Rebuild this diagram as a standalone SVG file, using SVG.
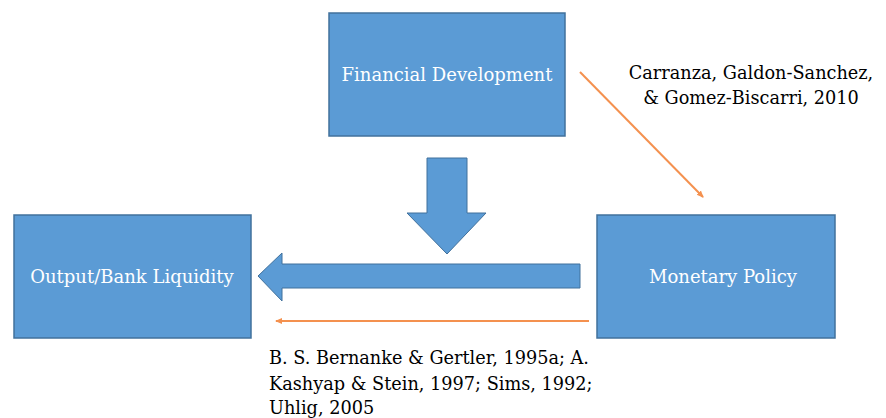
<svg xmlns="http://www.w3.org/2000/svg" width="886" height="418" viewBox="0 0 886 418">
<style>
.box{fill:#5B9BD5;stroke:#41719C;stroke-width:1.5}
.lbl{font-family:'DejaVu Serif','Liberation Serif',serif;font-size:18px;fill:#FFFFFF;text-anchor:middle}
.cite{font-family:'DejaVu Serif','Liberation Serif',serif;font-size:17.7px;fill:#000000}
.bigarrow{fill:#5B9BD5;stroke:#41719C;stroke-width:1}
.thin{stroke:#F4914F;stroke-width:2;fill:none}
</style>
<defs>
<marker id="oh" markerWidth="8" markerHeight="8" refX="6" refY="4" orient="auto" markerUnits="userSpaceOnUse">
<path d="M0,1 L7,4 L0,7 Z" fill="#F4914F"/>
</marker>
</defs>
<rect width="886" height="418" fill="#FFFFFF"/>
<g id="connectors">
<path class="bigarrow" d="M427,158 L467,158 L467,213 L486,213 L447,254 L407,213 L427,213 Z"/>
<path class="bigarrow" d="M580,264 L580,288 L282,288 L282,301 L258,276 L282,253 L282,264 Z"/>
<line class="thin" x1="589" y1="321" x2="276" y2="321" marker-end="url(#oh)"/>
<line class="thin" x1="580" y1="72" x2="703" y2="197" marker-end="url(#oh)"/>
</g>
<g id="financial-development">
<rect class="box" x="329" y="13" width="236" height="123"/>
<text class="lbl" x="447" y="81">Financial Development</text>
</g>
<g id="output-bank-liquidity">
<rect class="box" x="14" y="215" width="237" height="123"/>
<text class="lbl" x="132" y="283">Output/Bank Liquidity</text>
</g>
<g id="monetary-policy">
<rect class="box" x="597" y="215" width="238" height="123"/>
<text class="lbl" x="723" y="283">Monetary Policy</text>
</g>
<g id="cite-top">
<text class="cite" x="751" y="79" text-anchor="middle">Carranza, Galdon-Sanchez,</text>
<text class="cite" x="751" y="104" text-anchor="middle">&amp; Gomez-Biscarri, 2010</text>
</g>
<g id="cite-bottom">
<text class="cite" x="269" y="364" font-size="17.9px">B. S. Bernanke &amp; Gertler, 1995a; A.</text>
<text class="cite" x="269" y="390" font-size="17.9px">Kashyap &amp; Stein, 1997; Sims, 1992;</text>
<text class="cite" x="269" y="414" font-size="17.9px">Uhlig, 2005</text>
</g>
</svg>
